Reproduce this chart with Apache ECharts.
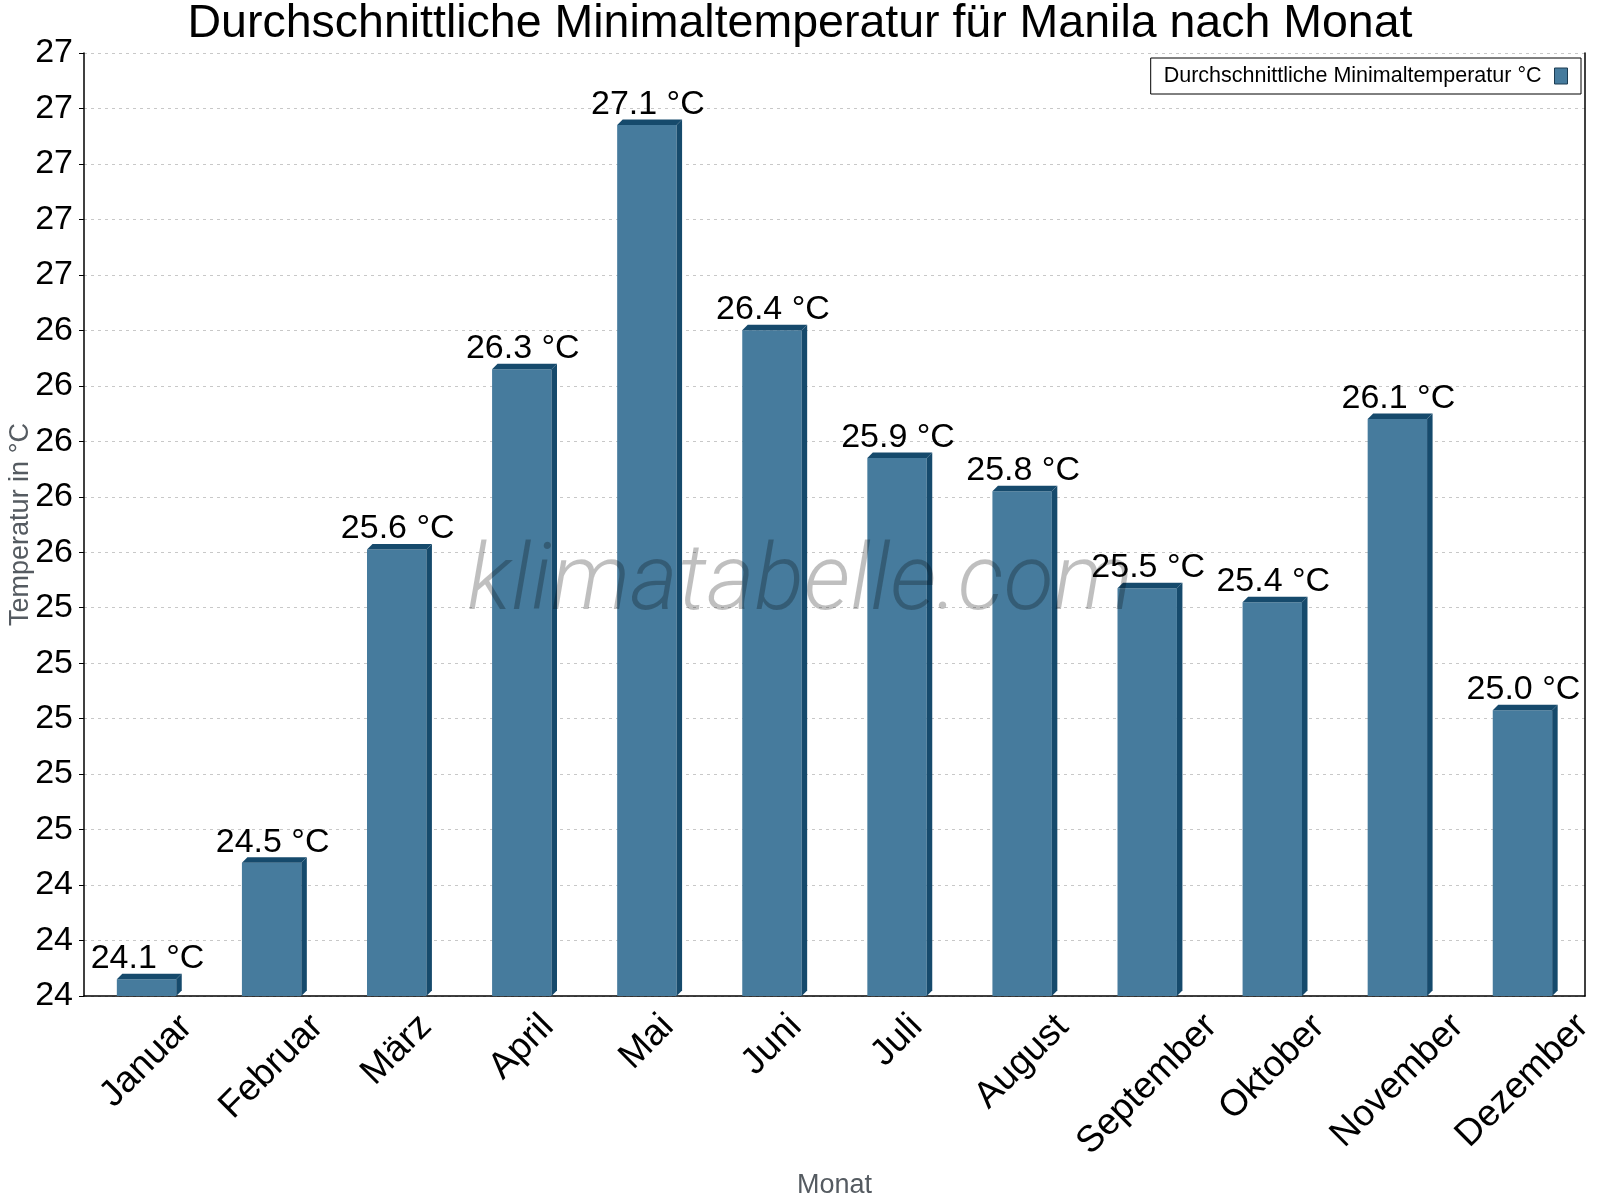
<!DOCTYPE html>
<html>
<head>
<meta charset="utf-8">
<title>Manila Minimaltemperatur</title>
<script src="https://cdn.jsdelivr.net/npm/echarts@6/dist/echarts.min.js"></script>
<style>
  html, body { margin: 0; padding: 0; background: #fff; }
  #chart { width: 1600px; height: 1200px; }
</style>
</head>
<body>
<div id="chart"></div>
<script>
var months = ['Januar', 'Februar', 'März', 'April', 'Mai', 'Juni', 'Juli', 'August', 'September', 'Oktober', 'November', 'Dezember'];
// the labels show them rounded to one decimal
var minTemps = [24.06, 24.48, 25.61, 26.26, 27.14, 26.40, 25.94, 25.82, 25.47, 25.42, 26.08, 25.03];
var seriesName = 'Durchschnittliche Minimaltemperatur °C';

var yMin = 24, yMax = 27.4, yStep = 0.2;

var frontColor = '#467b9d';
var darkColor = '#164a6c';
var depth = 5.5;
var font = '"Liberation Sans", Arial, sans-serif';
var xLabelSize = 37;

// x labels: bounding box centred under the category, top edge level
var measure = document.createElement('canvas').getContext('2d');
measure.font = xLabelSize + 'px ' + font;
var labelRich = {};
months.forEach(function (m, i) {
    var w = measure.measureText(m).width;
    var p = Math.round((w + 28) / 2);
    labelRich['m' + i] = { fontSize: xLabelSize, fontFamily: font, color: '#000', padding: [p, p, 0, 0] };
});

function renderBar(params, api) {
    var idx = api.value(0);
    var top = api.coord([idx, api.value(1)]);
    var base = api.coord([idx, yMin]);
    var bw = api.size([1, 0])[0] * 0.475;
    var x0 = top[0] - bw / 2, x1 = top[0] + bw / 2;
    var yt = top[1], yb = base[1];
    return {
        type: 'group',
        children: [
            { type: 'rect', shape: { x: x0, y: yt, width: bw, height: yb - yt }, style: { fill: frontColor } },
            { type: 'polygon', shape: { points: [[x1, yt], [x1 + depth, yt - depth], [x1 + depth, yb - depth], [x1, yb]] }, style: { fill: darkColor } },
            { type: 'polygon', shape: { points: [[x0, yt], [x0 + depth, yt - depth], [x1 + depth, yt - depth], [x1, yt]] }, style: { fill: darkColor } },
            {
                type: 'text',
                style: {
                    text: api.value(1).toFixed(1) + ' °C',
                    x: top[0] + 1, y: yt - depth + 2,
                    align: 'center', verticalAlign: 'bottom',
                    fontSize: 34, fontFamily: font, fill: '#000'
                }
            }
        ]
    };
}

var chart = echarts.init(document.getElementById('chart'));
chart.setOption({
    animation: false,
    backgroundColor: '#fff',
    title: {
        text: 'Durchschnittliche Minimaltemperatur für Manila nach Monat',
        left: 'center',
        top: 1,
        padding: 0,
        textStyle: { fontSize: 46.5, fontWeight: 'normal', fontFamily: font, color: '#000' }
    },
    legend: {
        top: 58,
        right: 19,
        align: 'right',
        backgroundColor: '#fff',
        borderColor: '#000',
        borderWidth: 1,
        borderRadius: 0,
        padding: [7, 13, 7, 13],
        itemWidth: 13,
        itemHeight: 16,
        textStyle: { fontSize: 21.5, fontFamily: font, color: '#000', padding: [0, 8, 0, 0] },
        data: [{ name: seriesName, icon: 'rect', itemStyle: { color: frontColor, borderColor: '#1c3c52', borderWidth: 1 } }]
    },
    grid: { left: 84, right: 15, top: 53, bottom: 204, outerBoundsMode: 'none' },
    graphic: [{
        type: 'text',
        left: 'center',
        top: 540,
        z: 100,
        style: {
            text: 'klimatabelle.com',
            fontSize: 92,
            fontStyle: 'italic',
            fontWeight: 300,
            fontFamily: 'Roboto, sans-serif',
            fill: 'rgba(0,0,0,0.25)'
        }
    }],
    xAxis: {
        type: 'category',
        data: months,
        name: 'Monat',
        nameLocation: 'middle',
        nameMoveOverlap: false,
        nameGap: 190,
        nameTextStyle: { fontSize: 27, fontFamily: font, color: '#555b61', verticalAlign: 'middle' },
        axisLine: { lineStyle: { color: '#000', width: 1.5 } },
        axisTick: { length: 5, lineStyle: { color: '#000' } },
        axisLabel: {
            interval: 0,
            rotate: 45,
            margin: 15,
            align: 'center',
            verticalAlign: 'middle',
            formatter: function (v, i) { return '{m' + i + '|' + v + '}'; },
            rich: labelRich
        }
    },
    yAxis: [{
        type: 'value',
        min: yMin,
        max: yMax,
        interval: yStep,
        name: 'Temperatur in °C',
        nameLocation: 'middle',
        nameMoveOverlap: false,
        nameGap: 63,
        nameTextStyle: { fontSize: 27, fontFamily: font, color: '#555b61', verticalAlign: 'middle' },
        axisLine: { show: true, lineStyle: { color: '#000', width: 1.5 } },
        axisTick: { show: true, length: 5, lineStyle: { color: '#000' } },
        axisLabel: {
            fontSize: 34, fontFamily: font, color: '#000', margin: 11,
            formatter: function (v) { return String(Math.round(v)); }
        },
        splitLine: { show: true, lineStyle: { color: '#c8c8c8', type: [3, 4] } }
    }, {
        // right border of the plot
        type: 'value',
        position: 'right',
        min: yMin,
        max: yMax,
        interval: yStep,
        axisLine: { show: true, lineStyle: { color: '#000', width: 1.5 } },
        axisTick: { show: false },
        axisLabel: { show: false },
        splitLine: { show: false }
    }],
    series: [{
        name: seriesName,
        type: 'custom',
        itemStyle: { color: frontColor },
        renderItem: renderBar,
        data: minTemps.map(function (t, i) { return [i, t]; })
    }]
});
</script>
</body>
</html>
